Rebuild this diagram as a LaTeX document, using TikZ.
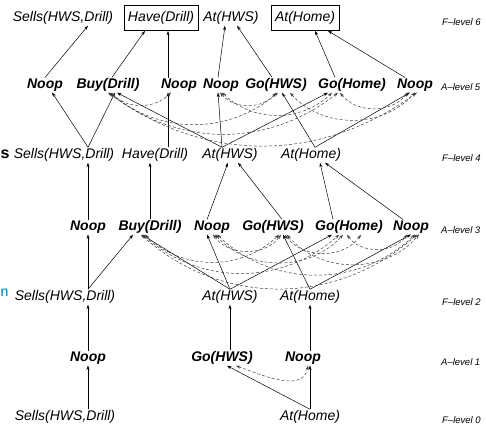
\documentclass[tikz,border=0pt]{standalone}
\usepackage{fontspec}
\newfontfamily\hv{Liberation Sans}
\usetikzlibrary{arrows.meta}
\begin{document}
\begin{tikzpicture}[x=1pt,y=1pt,
 fact/.style={font={\hv\itshape\fontsize{14}{16}\selectfont}, inner sep=1pt},
 act/.style={font={\hv\bfseries\itshape\fontsize{14}{16}\selectfont}, inner sep=1pt},
 goal/.style={fact, draw, line width=0.6pt, inner xsep=4pt, minimum height=25pt},
 lvl/.style={font={\hv\itshape\fontsize{9.5}{12}\selectfont}, anchor=west, inner sep=0pt},
 edge/.style={line width=0.5pt, -{Stealth[length=4.5pt,width=3pt]}},
 mutex/.style={line width=0.5pt, dash pattern=on 3pt off 2pt, black!75,
   {Stealth[length=4.5pt,width=3pt]}-{Stealth[length=4.5pt,width=3pt]}},
]
\useasboundingbox (0,0) rectangle (486,430);

% stray slide fragments
\node[font={\hv\bfseries\fontsize{16}{18}\selectfont}, inner sep=0pt, anchor=west] (frags) at (0.5,276) {s};
\node[font={\hv\fontsize{14}{16}\selectfont}, text={rgb,255:red,0;green,112;blue,192}, inner sep=0pt, anchor=west] (fragn) at (0.5,137) {n};

% F-level 6
\node[fact] (s6) at (63,412) {Sells(HWS,Drill)};
\node[goal] (h6) at (161,412) {Have(Drill)};
\node[fact] (a6) at (231,412) {At(HWS)};
\node[goal] (m6) at (305,412) {At(Home)};
% A-level 5
\node[act] (n5a) at (45,345) {Noop};
\node[act] (buy5) at (108,345) {Buy(Drill)};
\node[act] (n5b) at (179,345) {Noop};
\node[act] (n5c) at (221,345) {Noop};
\node[act] (gh5) at (276,345) {Go(HWS)};
\node[act] (gm5) at (352,345) {Go(Home)};
\node[act] (n5d) at (415,345) {Noop};
% F-level 4
\node[fact] (s4) at (64,275) {Sells(HWS,Drill)};
\node[fact] (h4) at (155,275) {Have(Drill)};
\node[fact] (a4) at (230,275) {At(HWS)};
\node[fact] (m4) at (311,275) {At(Home)};
% A-level 3
\node[act] (n3a) at (88,203) {Noop};
\node[act] (buy3) at (150,203) {Buy(Drill)};
\node[act] (n3b) at (212,203) {Noop};
\node[act] (gh3) at (273,203) {Go(HWS)};
\node[act] (gm3) at (349,203) {Go(Home)};
\node[act] (n3d) at (411,203) {Noop};
% F-level 2
\node[fact] (s2) at (65,133) {Sells(HWS,Drill)};
\node[fact] (a2) at (230,133) {At(HWS)};
\node[fact] (m2) at (310,133) {At(Home)};
% A-level 1
\node[act] (n1a) at (88,72) {Noop};
\node[act] (gh1) at (222,72) {Go(HWS)};
\node[act] (n1b) at (303,72) {Noop};
% F-level 0
\node[fact] (s0) at (65,13) {Sells(HWS,Drill)};
\node[fact] (m0) at (310,13) {At(Home)};

% level labels
\node[lvl] (l6) at (442,408) {F–level 6};
\node[lvl] (l5) at (441,343) {A–level 5};
\node[lvl] (l4) at (442,272) {F–level 4};
\node[lvl] (l3) at (441,200) {A–level 3};
\node[lvl] (l2) at (442,128) {F–level 2};
\node[lvl] (l1) at (441,68) {A–level 1};
\node[lvl] (l0) at (442,10) {F–level 0};

% F0 -> A1
\draw[edge] (s0.north -| n1a) -- (n1a.south);
\draw[edge] (m0.north) -- (n1b.south -| m0.north);
\draw[edge] (m0.north) -- ([xshift=5pt]gh1.south);
\draw[mutex] ([xshift=14pt]gh1.south) to[out=-20,in=-100] ([xshift=5pt]n1b.south);
% A1 -> F2
\draw[edge] (n1a.north) -- (s2.south -| n1a.north);
\draw[edge] (gh1.north -| a2) -- (a2.south);
\draw[edge] (n1b.north -| m2) -- (m2.south);
% F2 -> A3
\draw[edge] (s2.north -| n3a) -- (n3a.south);
\draw[edge] (s2.north -| n3a) -- ([xshift=-17pt]buy3.south);
\draw[edge] (a2.north) -- ([xshift=-8pt]buy3.south);
\draw[edge] (a2.north) -- ([xshift=-5pt]n3b.south);
\draw[edge] (a2.north) -- ([xshift=-17pt]gm3.south);
\draw[edge] (m2.north) -- ([xshift=10pt]gh3.south);
\draw[edge] (m2.north) -- (n3d.south);
% A3 -> F4
\draw[edge] (n3a.north) -- (s4.south -| n3a.north);
\draw[edge] (buy3.north) -- (h4.south -| buy3.north);
\draw[edge] ([xshift=-5pt]n3b.north) -- ([xshift=-2pt]a4.south);
\draw[edge] ([xshift=9pt]gh3.north) -- ([xshift=8pt]a4.south);
\draw[edge] ([xshift=-16pt]gm3.north) -- ([xshift=9pt]m4.south);
\draw[edge] ([xshift=-8pt]n3d.north) -- ([xshift=14pt]m4.south);
% F4 -> A5
\draw[edge] (s4.north -| n3a) -- ([xshift=7pt]n5a.south);
\draw[edge] (s4.north -| n3a) -- ([xshift=7pt]buy5.south);
\draw[edge] ([xshift=13pt]h4.north) -- ([xshift=13pt]h4.north |- n5b.south);
\draw[edge] ([xshift=-8pt]a4.north) -- ([xshift=9pt]buy5.south);
\draw[edge] ([xshift=-8pt]a4.north) -- ([xshift=-3pt]n5c.south);
\draw[edge] ([xshift=-8pt]a4.north) -- ([xshift=-24pt]gm5.south);
\draw[edge] ([xshift=4pt]m4.north) -- ([xshift=6pt]gh5.south);
\draw[edge] ([xshift=4pt]m4.north) -- ([xshift=-5pt]n5d.south);
% A5 -> F6
\draw[edge] (n5a.north) -- ([xshift=25pt]s6.south);
\draw[edge] ([xshift=4pt]buy5.north) -- ([xshift=-16pt]h6.south);
\draw[edge] ([xshift=13pt]h4.north |- n5b.north) -- ([xshift=13pt]h4.north |- h6.south);
\draw[edge] ([xshift=-3pt]n5c.north) -- ([xshift=-6pt]a6.south);
\draw[edge] ([xshift=-4pt]gh5.north) -- ([xshift=6pt]a6.south);
\draw[edge] ([xshift=-17pt]gm5.north) -- ([xshift=10pt]m6.south);
\draw[edge] ([xshift=-10pt]n5d.north) -- ([xshift=23pt]m6.south);

% mutex arcs, A-level 3
\draw[mutex] ([xshift=-5pt]buy3.south) to[bend right=44] ([xshift=6pt]gh3.south);
\draw[mutex] ([xshift=-7pt]buy3.south) to[bend right=42] ([xshift=-10pt]gm3.south);
\draw[mutex] ([xshift=-9pt]buy3.south) to[bend right=42] ([xshift=6pt]n3d.south);
\draw[mutex] ([xshift=1pt]n3b.south) to[bend right=55] ([xshift=8pt]gh3.south);
\draw[mutex] ([xshift=3pt]n3b.south) to[bend right=48] ([xshift=-6pt]gm3.south);
\draw[mutex] ([xshift=5pt]n3b.south) to[bend right=44] ([xshift=4pt]n3d.south);
\draw[mutex] ([xshift=12pt]gh3.south) to[bend right=55] ([xshift=12pt]gm3.south);
\draw[mutex] ([xshift=14pt]gh3.south) to[bend right=50] ([xshift=8pt]n3d.south);
\draw[mutex] ([xshift=-2pt]gm3.south) to[bend right=55] ([xshift=-4pt]n3d.south);

% mutex arcs, A-level 5
\draw[mutex] ([xshift=3pt]buy5.south) to[bend right=45] ([xshift=-8pt]n5b.south);
\draw[mutex] ([xshift=2pt]buy5.south) to[bend right=40] ([xshift=2pt]gh5.south);
\draw[mutex] ([xshift=1pt]buy5.south) to[bend right=38] ([xshift=-14pt]gm5.south);
\draw[mutex] ([xshift=0pt]buy5.south) to[bend right=36] ([xshift=2pt]n5d.south);
\draw[mutex] ([xshift=-1pt]n5c.south) to[bend right=50] ([xshift=0pt]gh5.south);
\draw[mutex] ([xshift=1pt]n5c.south) to[bend right=44] ([xshift=-20pt]gm5.south);
\draw[mutex] ([xshift=14pt]gh5.south) to[bend right=48] ([xshift=0pt]n5d.south);
\draw[mutex] ([xshift=-12pt]gm5.south) to[bend right=52] ([xshift=-7pt]n5d.south);
\end{tikzpicture}
\end{document}
